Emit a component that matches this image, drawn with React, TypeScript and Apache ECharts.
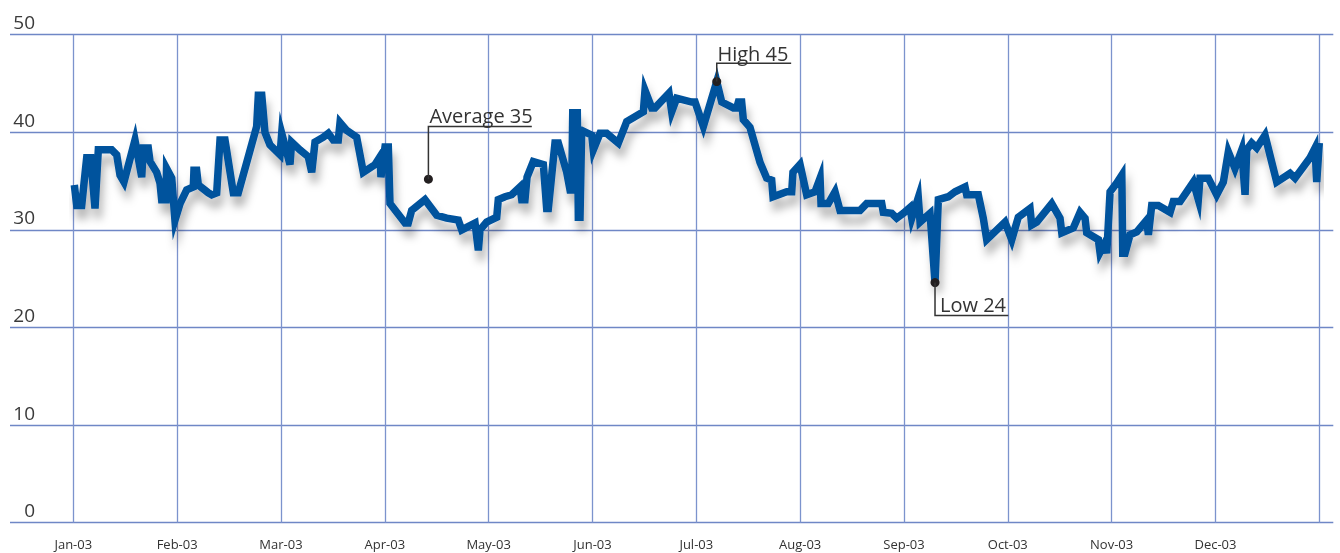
import React, { useEffect, useRef } from "react";
import * as echarts from "echarts";

// Month names (x-axis tick labels at month starts)
const months = ["Jan-03", "Feb-03", "Mar-03", "Apr-03", "May-03", "Jun-03", "Jul-03", "Aug-03", "Sep-03", "Oct-03", "Nov-03", "Dec-03"];
// Y-axis ticks
const yTicks = [0, 10, 20, 30, 40, 50];

// Position of each observation, in months from 1 Jan 2003 (equal-width months as in the source)
const positions = [
  0.01, 0.033, 0.081, 0.129, 0.168, 0.209, 0.241, 0.37, 0.418, 0.45, 0.488, 0.594, 0.659, 0.674, 0.722, 0.739,
  0.803, 0.835, 0.851, 0.893, 0.898, 0.948, 0.979, 1.028, 1.092, 1.156, 1.162, 1.188, 1.204, 1.3, 1.333, 1.381,
  1.413, 1.461, 1.541, 1.589, 1.67, 1.766, 1.782, 1.815, 1.846, 1.894, 1.991, 2.007, 2.087, 2.103, 2.183, 2.263,
  2.296, 2.328, 2.408, 2.456, 2.504, 2.552, 2.569, 2.633, 2.729, 2.793, 2.906, 2.954, 2.963, 3.002, 3.034, 3.05,
  3.195, 3.226, 3.259, 3.387, 3.5, 3.596, 3.708, 3.741, 3.869, 3.901, 3.917, 3.981, 4.078, 4.093, 4.158, 4.222,
  4.302, 4.319, 4.35, 4.37, 4.43, 4.527, 4.559, 4.575, 4.639, 4.671, 4.752, 4.784, 4.8, 4.81, 4.854, 4.864,
  4.88, 4.896, 4.993, 5.008, 5.073, 5.137, 5.249, 5.33, 5.49, 5.506, 5.571, 5.602, 5.737, 5.763, 5.811, 5.956,
  5.988, 6.068, 6.197, 6.245, 6.357, 6.389, 6.405, 6.437, 6.453, 6.517, 6.614, 6.678, 6.726, 6.739, 6.871, 6.919,
  6.931, 6.999, 7.063, 7.143, 7.192, 7.201, 7.271, 7.336, 7.384, 7.577, 7.641, 7.786, 7.801, 7.882, 7.93, 7.994,
  8.058, 8.075, 8.138, 8.155, 8.251, 8.299, 8.331, 8.427, 8.492, 8.588, 8.604, 8.716, 8.764, 8.797, 8.973, 9.038,
  9.101, 9.214, 9.23, 9.279, 9.423, 9.503, 9.52, 9.631, 9.696, 9.744, 9.76, 9.872, 9.888, 9.936, 9.953, 9.985,
  10.049, 10.098, 10.107, 10.129, 10.177, 10.242, 10.338, 10.354, 10.386, 10.45, 10.563, 10.594, 10.659, 10.787, 10.835, 10.851,
  10.931, 11.012, 11.076, 11.124, 11.188, 11.253, 11.285, 11.301, 11.349, 11.397, 11.477, 11.557, 11.59, 11.718, 11.766, 11.911,
  11.959, 11.975, 12.0,
];
const values = [
  34.6, 32.5, 32.5, 37.4, 37.4, 32.2, 38.2, 38.2, 37.7, 35.6, 34.9, 39.2, 35.4, 38.4, 38.4, 37.0,
  35.9, 34.8, 33.1, 33.1, 36.3, 35.3, 31.0, 32.7, 34.1, 34.4, 36.1, 36.1, 34.6, 33.8, 33.6, 33.8,
  39.2, 39.2, 33.8, 33.8, 36.9, 40.6, 43.8, 43.8, 40.0, 38.7, 37.7, 39.9, 36.7, 39.0, 38.2, 37.5,
  35.9, 39.0, 39.5, 39.9, 39.2, 39.2, 41.0, 40.2, 39.5, 35.9, 36.7, 37.5, 35.4, 38.5, 38.5, 32.7,
  30.7, 30.7, 32.0, 33.1, 31.5, 31.2, 31.0, 30.0, 30.7, 27.9, 30.0, 30.8, 31.3, 33.1, 33.4, 33.6,
  34.4, 33.1, 33.1, 35.4, 37.0, 36.7, 32.2, 32.2, 38.9, 38.9, 35.9, 34.1, 34.1, 42.0, 42.0, 31.3,
  31.3, 40.2, 39.7, 38.2, 39.9, 39.9, 38.9, 41.1, 42.1, 44.3, 42.5, 42.5, 44.0, 42.1, 43.5, 43.1,
  43.1, 40.6, 45.2, 43.1, 42.5, 42.5, 43.1, 43.1, 41.3, 40.5, 36.9, 35.3, 35.1, 33.4, 33.9, 33.9,
  35.9, 36.7, 33.6, 33.9, 35.3, 32.7, 32.7, 33.9, 32.0, 32.0, 32.7, 32.7, 31.8, 31.7, 31.2, 31.7,
  32.3, 31.2, 33.3, 30.8, 31.7, 24.6, 33.1, 33.4, 33.9, 34.4, 33.6, 33.6, 31.2, 29.0, 30.8, 29.0,
  31.3, 32.2, 30.5, 30.8, 32.7, 31.2, 29.7, 30.2, 31.8, 31.2, 29.7, 29.0, 27.7, 28.7, 27.6, 33.9,
  34.8, 35.6, 27.6, 27.6, 29.5, 29.8, 31.0, 29.5, 32.5, 32.5, 31.8, 32.9, 32.9, 34.9, 33.1, 35.3,
  35.3, 33.6, 34.9, 38.0, 36.3, 38.2, 33.6, 38.2, 38.9, 38.4, 39.7, 36.3, 34.9, 35.8, 35.3, 37.4,
  38.4, 34.9, 38.9,
];

// Reference line and annotations
const AVERAGE = 35.2;
const averageMarkerPos = 3.42;
const annotationLabels = ["Average 35", "High 45", "Low 24"];
const highPoint = [6.197, 45.2];
const lowPoint = [8.299, 24.6];

export default function App() {
  const ref = useRef<HTMLDivElement>(null);

  useEffect(() => {
    if (!ref.current) return;
    const chart = echarts.init(ref.current, undefined, { renderer: "svg" });
    const seriesData = positions.map((p, i) => [p, values[i]]);
    const gridTop = 34.7;
    const gridBottom = 30.3;
    const font = "Open Sans";

    chart.setOption({
      animation: false,
      grid: [
        { left: 10, right: 6.7, top: gridTop, bottom: gridBottom },
        { left: 73.3, right: 20.7, top: gridTop, bottom: gridBottom },
      ],
      xAxis: [
        { type: "value", gridIndex: 0, min: 0, max: 1, show: false },
        {
          type: "value",
          gridIndex: 1,
          min: 0,
          max: 12,
          interval: 1,
          axisLine: { show: false },
          axisTick: { show: false },
          splitLine: { show: true, lineStyle: { color: "#7C93CD", width: 1.3 } },
          axisLabel: {
            margin: 14,
            color: "#333",
            fontFamily: font,
            fontSize: 13,
            lineHeight: 14,
            formatter: (v: number) => (Number.isInteger(v) && v < 12 ? months[v] : ""),
          },
        },
      ],
      yAxis: [
        {
          type: "value",
          gridIndex: 0,
          min: yTicks[0],
          max: yTicks[yTicks.length - 1],
          interval: 10,
          axisLine: { show: false },
          axisTick: { show: false },
          splitLine: { show: true, lineStyle: { color: "#6F87C6", width: 1.3 } },
          axisLabel: {
            inside: true,
            margin: 25,
            align: "right",
            verticalAlign: "bottom",
            padding: [0, 0, 3, 0],
            color: "#3a3a3a",
            fontFamily: font,
            fontSize: 19,
            lineHeight: 19,
          },
        },
        { type: "value", gridIndex: 1, min: 0, max: 50, show: false, splitLine: { show: false } },
      ],
      series: [
        {
          type: "line",
          xAxisIndex: 1,
          yAxisIndex: 1,
          data: seriesData,
          showSymbol: false,
          clip: false,
          z: 3,
          lineStyle: {
            color: "#03529D",
            width: 7.5,
            join: "miter",
            miterLimit: 6,
            shadowColor: "rgba(0,0,0,0.28)",
            shadowBlur: 8,
            shadowOffsetX: 3,
            shadowOffsetY: 10,
          },
          markLine: {
            silent: true,
            symbol: "none",
            label: { show: false },
            lineStyle: { color: "#E8902C", width: 1.6, type: "solid" },
            data: [[{ coord: [0, AVERAGE] }, { coord: [12.135, AVERAGE] }]],
            z: 2,
          },
          markPoint: {
            symbol: "circle",
            symbolSize: 9,
            label: { show: false },
            itemStyle: { color: "#231F20" },
            data: [
              { coord: [averageMarkerPos, AVERAGE] },
              { coord: highPoint },
              { coord: lowPoint },
            ],
            z: 10,
          },
        },
      ],
    });

    const toPx = (pt: number[]) => chart.convertToPixel({ gridIndex: 1 }, pt) as number[];
    const a = toPx([averageMarkerPos, AVERAGE]);
    const h = toPx(highPoint);
    const l = toPx(lowPoint);
    const lineStyle = { stroke: "#333", lineWidth: 1.5 };
    const textStyle = (text: string, x: number, y: number) => ({
      type: "text",
      z: 20,
      style: { text, x, y, fill: "#333", fontFamily: font, fontSize: 20, verticalAlign: "bottom", align: "left" },
    });
    const leader = (p: number[], dy: number, dx: number) => ({
      type: "polyline",
      z: 15,
      shape: { points: [[p[0], p[1]], [p[0], p[1] + dy], [p[0] + dx, p[1] + dy]] },
      style: { ...lineStyle, fill: null },
    });

    chart.setOption({
      graphic: [
        leader(a, -52.6, 103.4),
        textStyle(annotationLabels[0], a[0] + 1, a[1] - 54),
        leader(h, -18.3, 74.4),
        textStyle(annotationLabels[1], h[0] + 0.7, h[1] - 18),
        leader(l, 33, 73.3),
        textStyle(annotationLabels[2], l[0] + 5, l[1] + 31.5),
      ],
    });

    return () => chart.dispose();
  }, []);

  return <div ref={ref} style={{ position: "fixed", left: 0, top: 0, width: 1340, height: 553 }} />;
}
